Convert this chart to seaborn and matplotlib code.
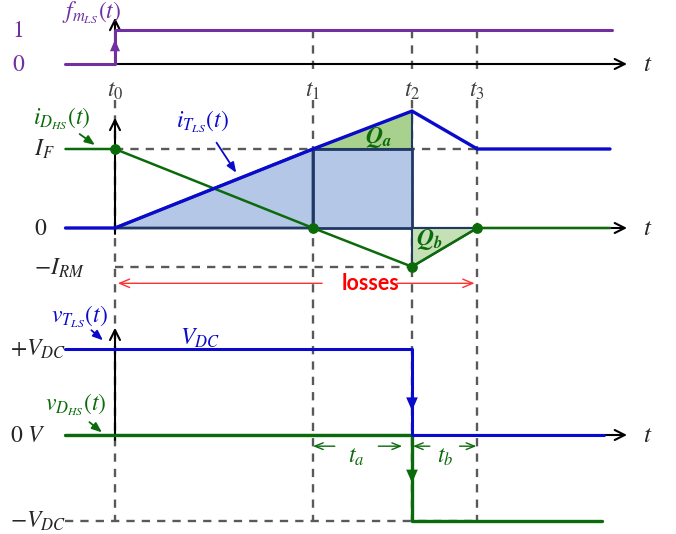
import matplotlib
matplotlib.use("Agg")
import matplotlib.pyplot as plt
import seaborn as sns

# ---- data (time in units of t1 - t0, levels normalised) ----
t_marks = [0.0, 1.0, 1.5, 1.83]
t_names = ["$t_0$", "$t_1$", "$t_2$", "$t_3$"]
t_begin, t_end, t_axis_end = -0.25, 2.5, 2.6

gate_t = [-0.25, 0.0, 0.0, 2.51]
gate_v = [0, 0, 1, 1]

iT_t = [-0.25, 0.0, 1.0, 1.5, 1.83, 2.5]
iT_v = [0, 0, 1.0, 1.48, 1.0, 1.0]
iD_t = [-0.25, 0.0, 1.0, 1.5, 1.83, 2.5]
iD_v = [1.0, 1.0, 0.0, -0.49, 0.0, 0.0]
I_F, I_RM, I_PK = 1.0, -0.49, 1.48

vT_t = [-0.25, 1.5, 1.5, 2.47]
vT_v = [1, 1, 0, 0]
vD_t = [-0.25, 1.5, 1.5, 2.46]
vD_v = [0, 0, -1, -1]

BLUE = "#0a0acc"
GREEN = "#0b6b0b"
PURPLE = "#7030a0"
GREY = "#595959"
NAVY = "#1f3864"

sns.set_theme(style="white")
plt.rcParams["mathtext.fontset"] = "stix"
plt.rcParams["font.family"] = ["DejaVu Sans"]

fig = plt.figure(figsize=(6.76, 5.34), dpi=100)
xl = (-115 / 198, 561 / 198)
ax_f = fig.add_axes([0, 434 / 534, 1, 100 / 534])
ax_i = fig.add_axes([0, 234 / 534, 1, 200 / 534])
ax_v = fig.add_axes([0, 0, 1, 234 / 534])
ax_f.set_ylim(-36 / 34, 64 / 34)
ax_i.set_ylim(-72 / 79, 128 / 79)
ax_v.set_ylim(-99 / 86, 135 / 86)
for ax in (ax_f, ax_i, ax_v):
    ax.set_xlim(*xl)
    ax.axis("off")

dash = dict(color=GREY, lw=1.7, ls=(0, (3.5, 3)), zorder=1)
FS = 17


def axis_arrows(ax, ylo, yhi, xlo=0.0):
    ax.annotate("", xy=(t_axis_end, 0), xytext=(xlo, 0),
                arrowprops=dict(arrowstyle="->,head_length=0.6,head_width=0.3", color="black", lw=1.5), zorder=2)
    ax.annotate("", xy=(0, yhi), xytext=(0, ylo),
                arrowprops=dict(arrowstyle="->,head_length=0.6,head_width=0.3", color="black", lw=1.5), zorder=2)
    ax.text(t_axis_end + 0.09, 0, "$t$", fontsize=FS + 1, ha="center", va="center")


def wave(ax, xs, ys, color, lw):
    sns.lineplot(x=xs, y=ys, ax=ax, color=color, lw=lw, sort=False, estimator=None, zorder=4)


# ---- top: gate signal ----
for t in t_marks[1:]:
    ax_f.plot([t, t], [1, -0.32], **dash)
axis_arrows(ax_f, 0, 1.44)
wave(ax_f, gate_t, gate_v, PURPLE, 2.2)
ax_f.annotate("", xy=(0, 0.8), xytext=(0, 0.3),
              arrowprops=dict(arrowstyle="-|>,head_length=0.7,head_width=0.3", color=PURPLE, lw=0), zorder=5)
ax_f.text(-0.52, 1, "$1$", color=PURPLE, fontsize=FS, ha="left", va="center")
ax_f.text(-0.52, 0, "$0$", color=PURPLE, fontsize=FS, ha="left", va="center")
ax_f.text(-0.27, 1.5, "$f_{m_{LS}}(t)$", color=PURPLE, fontsize=FS, ha="left", va="center")
for t, name in zip(t_marks, t_names):
    ax_f.text(t, -0.76, name, color="#404040", fontsize=FS, ha="center", va="center")

# ---- middle: currents ----
for t in t_marks:
    ax_i.plot([t, t], [1.62, -0.92], **dash)
ax_i.plot([0, t_marks[3]], [I_F, I_F], **dash)
ax_i.plot([0, t_marks[2]], [I_RM, I_RM], **dash)
axis_arrows(ax_i, -0.11, 1.43)

t0, t1, t2, t3 = t_marks
ax_i.fill([t0, t1, t1], [0, I_F, 0], color="#b4c7e7", ec=NAVY, lw=2, zorder=3)
ax_i.fill([t1, t2, t2, t1], [0, 0, I_F, I_F], color="#b4c7e7", ec=NAVY, lw=2, zorder=3)
ax_i.fill([t1, t2, t2], [I_F, I_PK, I_F], color="#a9d18e", ec=NAVY, lw=1.5, zorder=3)
ax_i.fill([t2, t2, t3], [0, I_RM, 0], color="#c5e0b4", ec=NAVY, lw=1.5, zorder=3)

wave(ax_i, iD_t, iD_v, GREEN, 1.8)
wave(ax_i, iT_t, iT_v, BLUE, 2.4)
ax_i.scatter([t0, t1, t2, t3], [I_F, 0, I_RM, 0], s=45, color=GREEN, zorder=6)

ax_i.text(-0.41, I_F, "$I_F$", fontsize=FS, ha="left", va="center")
ax_i.text(-0.41, 0, "$0$", fontsize=FS, ha="left", va="center")
ax_i.text(-0.41, I_RM - 0.02, "$-I_{RM}$", fontsize=FS, ha="left", va="center")
ax_i.text(-0.27, 1.38, "$i_{D_{HS}}(t)$", color=GREEN, fontsize=FS, ha="center", va="center")
ax_i.annotate("", xy=(-0.09, 1.03), xytext=(-0.19, 1.21),
              arrowprops=dict(arrowstyle="-|>,head_length=0.5,head_width=0.2", color=GREEN, lw=1.3))
ax_i.text(0.44, 1.34, "$i_{T_{LS}}(t)$", color=BLUE, fontsize=FS, ha="center", va="center")
ax_i.annotate("", xy=(0.62, 0.67), xytext=(0.505, 1.11),
              arrowprops=dict(arrowstyle="-|>,head_length=0.5,head_width=0.2", color=BLUE, lw=1.3))
ax_i.text(1.33, 1.15, r"$\mathbfit{Q}_{\mathbfit{a}}$", color=GREEN, fontsize=FS, ha="center", va="center", zorder=7)
ax_i.text(1.59, -0.15, r"$\mathbfit{Q}_{\mathbfit{b}}$", color=GREEN, fontsize=FS, ha="center", va="center", zorder=7)

ax_i.text(1.29, -0.70, "losses", color="red", fontsize=15.5, fontweight="bold", family="Lato",
          ha="center", va="center")
ax_i.annotate("", xy=(0.0, -0.70), xytext=(1.06, -0.70),
              arrowprops=dict(arrowstyle="->,head_length=0.6,head_width=0.25", color="#ff3030", lw=1))
ax_i.annotate("", xy=(1.83, -0.70), xytext=(1.41, -0.70),
              arrowprops=dict(arrowstyle="->,head_length=0.6,head_width=0.25", color="#ff3030", lw=1))

# ---- bottom: voltages ----
for t in t_marks:
    ax_v.plot([t, t], [1.57, -1.0], **dash)
ax_v.plot([t_begin, t3], [-1, -1], **dash)
axis_arrows(ax_v, -0.09, 1.28, xlo=t_begin)
wave(ax_v, vD_t, vD_v, GREEN, 2.4)
wave(ax_v, vT_t, vT_v, BLUE, 2.2)
ax_v.annotate("", xy=(t2, 0.25), xytext=(t2, 0.7),
              arrowprops=dict(arrowstyle="-|>,head_length=0.8,head_width=0.35", color=BLUE, lw=0), zorder=5)
ax_v.annotate("", xy=(t2, -0.59), xytext=(t2, -0.2),
              arrowprops=dict(arrowstyle="-|>,head_length=0.8,head_width=0.35", color=GREEN, lw=0), zorder=5)

ax_v.text(-0.53, 1, "$+V_{DC}$", fontsize=FS, ha="left", va="center")
ax_v.text(-0.53, 0, "$0\\ V$", fontsize=FS, ha="left", va="center")
ax_v.text(-0.53, -1, "$-V_{DC}$", fontsize=FS, ha="left", va="center")
ax_v.text(-0.18, 1.38, "$v_{T_{LS}}(t)$", color=BLUE, fontsize=FS, ha="center", va="center")
ax_v.annotate("", xy=(-0.05, 1.08), xytext=(-0.13, 1.24),
              arrowprops=dict(arrowstyle="-|>,head_length=0.5,head_width=0.2", color=BLUE, lw=1.3))
ax_v.text(0.43, 1.13, "$V_{DC}$", color=BLUE, fontsize=FS, ha="center", va="center")
ax_v.text(-0.2, 0.35, "$v_{D_{HS}}(t)$", color=GREEN, fontsize=FS, ha="center", va="center")
ax_v.annotate("", xy=(-0.055, 0.01), xytext=(-0.14, 0.17),
              arrowprops=dict(arrowstyle="-|>,head_length=0.5,head_width=0.2", color=GREEN, lw=1.3))

# interval arrows: (label position, left arrow, right arrow)
intervals = [("$t_a$", 1.22, (1.11, 1.0), (1.33, 1.45)),
             ("$t_b$", 1.67, (1.59, 1.505), (1.74, 1.825))]
arr = dict(arrowstyle="->,head_length=0.5,head_width=0.2", color=GREEN, lw=1, shrinkA=0, shrinkB=0)
for name, mid, (la, lb), (ra, rb) in intervals:
    ax_v.text(mid, -0.25, name, color=GREEN, fontsize=FS, ha="center", va="center")
    ax_v.annotate("", xy=(lb, -0.13), xytext=(la, -0.13), arrowprops=arr)
    ax_v.annotate("", xy=(rb, -0.13), xytext=(ra, -0.13), arrowprops=arr)

fig.savefig("out.png", dpi=100)
